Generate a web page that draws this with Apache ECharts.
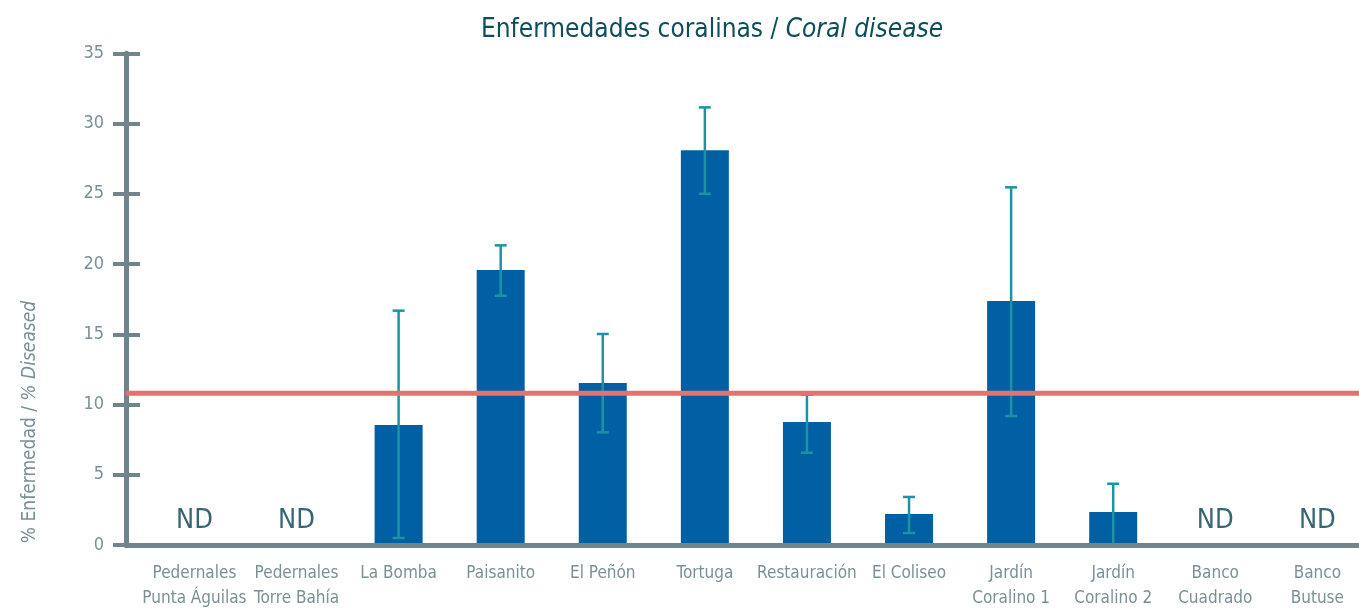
<!DOCTYPE html>
<html>
<head>
<meta charset="utf-8">
<title>Enfermedades coralinas / Coral disease</title>
<script src="https://cdn.jsdelivr.net/npm/echarts@6/dist/echarts.min.js"></script>
<style>
  html, body { margin: 0; padding: 0; background: #ffffff; }
  #chart { width: 1359px; height: 610px; }
</style>
</head>
<body>
<div id="chart"></div>
<script>
// Sites (two-line labels)
const sites = [
  'Pedernales\nPunta Águilas', 'Pedernales\nTorre Bahía', 'La Bomba', 'Paisanito',
  'El Peñón', 'Tortuga', 'Restauración', 'El Coliseo',
  'Jardín\nCoralino 1', 'Jardín\nCoralino 2', 'Banco\nCuadrado', 'Banco\nButuse'
];
// % diseased colonies per site (null = no data, "ND")
const diseased = [null, null, 8.54, 19.57, 11.53, 28.1, 8.75, 2.2, 17.37, 2.35, null, null];
// Error bar limits
const errLow  = [null, null, 0.5, 17.74, 8.02, 25.0, 6.57, 0.85, 9.18, 0.0, null, null];
const errHigh = [null, null, 16.68, 21.33, 15.02, 31.15, 10.7, 3.42, 25.46, 4.36, null, null];
// Overall mean
const meanValue = 10.8;
// Y axis ticks
const yMin = 0, yMax = 35, yStep = 5;

const FONT = "'DejaVu Sans Condensed', 'Roboto', sans-serif";
const AXIS_COLOR = '#6f858b';
const LABEL_COLOR = '#7b9096';
const BAR_COLOR = '#0060a3';
const ERR_COLOR = '#1b93a5';
const MEAN_COLOR = '#e6716d';
const DARK = '#0c4e5b';

const errData = sites.map((s, i) => errLow[i] == null ? null : [i, errLow[i], errHigh[i]]).filter(d => d);
const ndData = sites.map((s, i) => diseased[i] == null ? [i, 0] : null).filter(d => d);

const chart = echarts.init(document.getElementById('chart'), null, { renderer: 'canvas' });

chart.setOption({
  animation: false,
  backgroundColor: '#ffffff',
  textStyle: { fontFamily: FONT },
  graphic: [
    {
      type: 'text',
      x: 712, y: 30,
      style: {
        text: '{a|Enfermedades coralinas / }{b|Coral disease}',
        align: 'center', verticalAlign: 'middle',
        rich: {
          a: { fontSize: 26, fill: DARK, fontFamily: FONT },
          b: { fontSize: 26, fill: DARK, fontFamily: FONT, fontStyle: 'italic' }
        }
      }
    },
    {
      type: 'text',
      x: 30, y: 422,
      rotation: Math.PI / 2,
      style: {
        text: '{a|% Enfermedad / }{b|% Diseased}',
        align: 'center', verticalAlign: 'middle',
        rich: {
          a: { fontSize: 19, fill: LABEL_COLOR, fontFamily: FONT },
          b: { fontSize: 19, fill: LABEL_COLOR, fontFamily: FONT, fontStyle: 'italic' }
        }
      }
    }
  ],
  grid: [
    // bars
    { left: 143.4, width: 1225, top: 53.3, bottom: 65, outerBoundsMode: 'none' },
    // axis frame and mean line
    { left: 126, right: 0, top: 53.3, bottom: 65, outerBoundsMode: 'none' }
  ],
  xAxis: [
    {
      gridIndex: 0, type: 'category', data: sites,
      axisLine: { show: false }, axisTick: { show: false },
      axisLabel: { color: LABEL_COLOR, fontSize: 17, lineHeight: 25, margin: 16, interval: 0, fontFamily: FONT }
    },
    {
      gridIndex: 1, type: 'value', min: 0, max: 1, z: 5,
      axisLine: { show: true, onZero: false, lineStyle: { color: AXIS_COLOR, width: 5 } },
      axisTick: { show: false }, axisLabel: { show: false }, splitLine: { show: false }
    }
  ],
  yAxis: [
    {
      gridIndex: 0, type: 'value', min: yMin, max: yMax, interval: yStep, show: false
    },
    {
      gridIndex: 1, type: 'value', position: 'left', min: yMin, max: yMax, interval: yStep, z: 5,
      axisLine: { show: true, lineStyle: { color: AXIS_COLOR, width: 5 } },
      axisTick: { show: true, length: 13, lineStyle: { color: AXIS_COLOR, width: 4 } },
      axisLabel: { color: LABEL_COLOR, fontSize: 18, margin: 22, fontFamily: FONT },
      splitLine: { show: false }
    },
    {
      gridIndex: 1, type: 'value', position: 'left', min: yMin, max: yMax, interval: yStep, z: 5,
      axisLine: { show: false },
      axisTick: { show: true, inside: true, length: 14, lineStyle: { color: AXIS_COLOR, width: 4 } },
      axisLabel: { show: false }, splitLine: { show: false }
    }
  ],
  series: [
    {
      type: 'bar', xAxisIndex: 0, yAxisIndex: 0,
      data: diseased, barWidth: 48,
      itemStyle: { color: BAR_COLOR }, z: 2
    },
    {
      type: 'custom', xAxisIndex: 0, yAxisIndex: 0, z: 3,
      data: errData,
      renderItem: function (params, api) {
        const x = api.coord([api.value(0), 0])[0];
        const lo = api.coord([api.value(0), api.value(1)])[1];
        const hi = api.coord([api.value(0), api.value(2)])[1];
        const half = 6;
        const st = { stroke: ERR_COLOR, lineWidth: 2.5 };
        return {
          type: 'group',
          children: [
            { type: 'line', shape: { x1: x, y1: hi, x2: x, y2: lo }, style: st },
            { type: 'line', shape: { x1: x - half, y1: hi, x2: x + half, y2: hi }, style: st },
            { type: 'line', shape: { x1: x - half, y1: lo, x2: x + half, y2: lo }, style: st }
          ]
        };
      }
    },
    {
      type: 'scatter', xAxisIndex: 0, yAxisIndex: 0, z: 4,
      data: ndData, symbolSize: 0,
      label: {
        show: true, formatter: 'ND', position: 'inside', offset: [0, -24],
        color: '#04414d', fontSize: 27, fontFamily: FONT
      }
    },
    {
      type: 'line', xAxisIndex: 1, yAxisIndex: 1, z: 10,
      data: [[0, meanValue], [1, meanValue]],
      symbol: 'none',
      lineStyle: { color: MEAN_COLOR, width: 5 }
    }
  ]
});
</script>
</body>
</html>
